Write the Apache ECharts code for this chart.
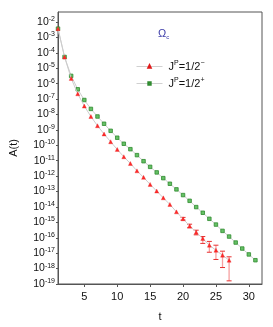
<!DOCTYPE html>
<html><head><meta charset="utf-8">
<script src="https://cdn.jsdelivr.net/npm/echarts@6/dist/echarts.min.js"></script>
<style>html,body{margin:0;padding:0;background:#fff}#c{width:273px;height:327px}</style>
</head><body><div id="c"></div>
<script>
const tNeg = [1,2,3,4,5,6,7,8,9,10,11,12,13,14,15,16,17,18,19,20,21,22,23,24,25,26,27];
const aNeg = [3.7e-3,5.3e-5,2.2e-6,2.2e-7,3.5e-8,7.4e-9,1.86e-9,5.4e-10,1.7e-10,5.4e-11,1.8e-11,6.6e-12,2.2e-12,8.3e-13,2.9e-13,1.07e-13,3.9e-14,1.45e-14,4.8e-15,1.7e-15,5.9e-16,2.3e-16,8.9e-17,3.3e-17,1.55e-17,7.4e-18,3.5e-18];
const tPos = [1,2,3,4,5,6,7,8,9,10,11,12,13,14,15,16,17,18,19,20,21,22,23,24,25,26,27,28,29,30,31];
const aPos = [3.7e-3,5.4e-5,3.2e-6,4.3e-7,8.7e-8,2.3e-8,7.4e-9,2.5e-9,8.7e-10,3.1e-10,1.26e-10,5.6e-11,2.3e-11,9.3e-12,4.0e-12,1.74e-12,7.4e-13,3.2e-13,1.38e-13,5.9e-14,2.5e-14,9.8e-15,4.2e-15,1.7e-15,7.2e-16,2.8e-16,1.2e-16,4.9e-17,2.0e-17,8.3e-18,3.5e-18];
const errT = [20,21,22,23,24,25,26,27];
const errLow = [1.4e-15,4.4e-16,1.55e-16,4.3e-17,1.15e-17,3.9e-18,1.17e-18,1.6e-19];
const errHigh = [2.1e-15,7.6e-16,3.1e-16,1.2e-16,5.8e-17,3.3e-17,1.35e-17,5.8e-18];
const yExpTicks = [-19,-18,-17,-16,-15,-14,-13,-12,-11,-10,-9,-8,-7,-6,-5,-4,-3,-2];
const xTicks = [5,10,15,20,25,30];

const L = Math.log10;
const negData = tNeg.map((t,i)=>[t, L(aNeg[i])]);
const posData = tPos.map((t,i)=>[t, L(aPos[i])]);
const errData = errT.map((t,i)=>[t, L(errLow[i]), L(errHigh[i])]);

const chart = echarts.init(document.getElementById('c'), null, {renderer:'canvas'});
const font = 'Liberation Sans, Arial, sans-serif';
chart.setOption({
  animation:false,
  textStyle:{fontFamily:font},
  title:{text:'Ω{sub|c}', left:153, top:22,
    textStyle:{color:'#3a3aa8', fontSize:11, fontWeight:'normal', fontFamily:font,
      rich:{sub:{fontSize:6, color:'#3a3aa8', verticalAlign:'bottom', padding:[7,0,0,0]}}}},
  legend:{left:136, top:60, padding:0, orient:'vertical', itemWidth:26, itemHeight:3, itemGap:5,
    data:['neg','pos'],
    lineStyle:{width:1, color:'#d0d0d0'},
    formatter:function(n){return n==='neg' ? 'J{sup|P}=1/2{sup|−}' : 'J{sup|P}=1/2{sup|+}';},
    textStyle:{fontSize:11, color:'#111', fontFamily:font, padding:[0,0,0,1],
      rich:{sup:{fontSize:7, verticalAlign:'top', padding:[0,0,6,0], color:'#111'}}}},
  grid:{left:52, right:11, top:12, bottom:43, show:true, borderColor:'#555', borderWidth:1},
  xAxis:{type:'value', min:1, max:32, name:'t', nameLocation:'middle', nameGap:27,
    nameTextStyle:{fontSize:11, color:'#111'},
    axisLine:{lineStyle:{color:'#555'}},
    axisTick:{customValues:xTicks, length:3, lineStyle:{color:'#555'}},
    axisLabel:{customValues:xTicks, fontSize:11, color:'#111', margin:7},
    splitLine:{show:false}},
  yAxis:{type:'value', min:-19, max:-1.35, name:'A(t)', nameLocation:'middle', nameGap:39,
    nameTextStyle:{fontSize:11, color:'#111'},
    axisLine:{lineStyle:{color:'#555'}},
    axisTick:{customValues:yExpTicks, length:2, lineStyle:{color:'#555'}},
    axisLabel:{customValues:yExpTicks, fontSize:10.5, color:'#111', margin:3,
      formatter:function(v){return '10{sup|'+Math.round(v)+'}';},
      rich:{sup:{fontSize:7, verticalAlign:'top', padding:[0,0,6,0], color:'#111'}}},
    splitLine:{show:false}},
  series:[
    {name:'errbars', type:'custom', data:errData, z:1, silent:true,
      renderItem:function(params, api){
        const x = api.value(0);
        const lo = api.coord([x, api.value(1)]);
        const hi = api.coord([x, api.value(2)]);
        const w = 2.5;
        return {type:'group', children:[
          {type:'line', shape:{x1:lo[0],y1:lo[1],x2:hi[0],y2:hi[1]}, style:{stroke:'#f6a0a0', lineWidth:1.3}},
          {type:'line', shape:{x1:lo[0]-w,y1:lo[1],x2:lo[0]+w,y2:lo[1]}, style:{stroke:'#e83030', lineWidth:1}},
          {type:'line', shape:{x1:hi[0]-w,y1:hi[1],x2:hi[0]+w,y2:hi[1]}, style:{stroke:'#e83030', lineWidth:1}}
        ]};
      }},
    {name:'neg', type:'line', data:negData, z:3, symbol:'triangle', symbolSize:4,
      lineStyle:{color:'#cccccc', width:1}, itemStyle:{color:'#ff2a2a', borderColor:'#e01818', borderWidth:0.3}},
    {name:'pos', type:'line', data:posData, z:2, symbol:'rect', symbolSize:3.5,
      lineStyle:{color:'#cccccc', width:1}, itemStyle:{color:'#66c066', borderColor:'#2f8a2f', borderWidth:0.8}}
  ]
});
</script></body></html>
